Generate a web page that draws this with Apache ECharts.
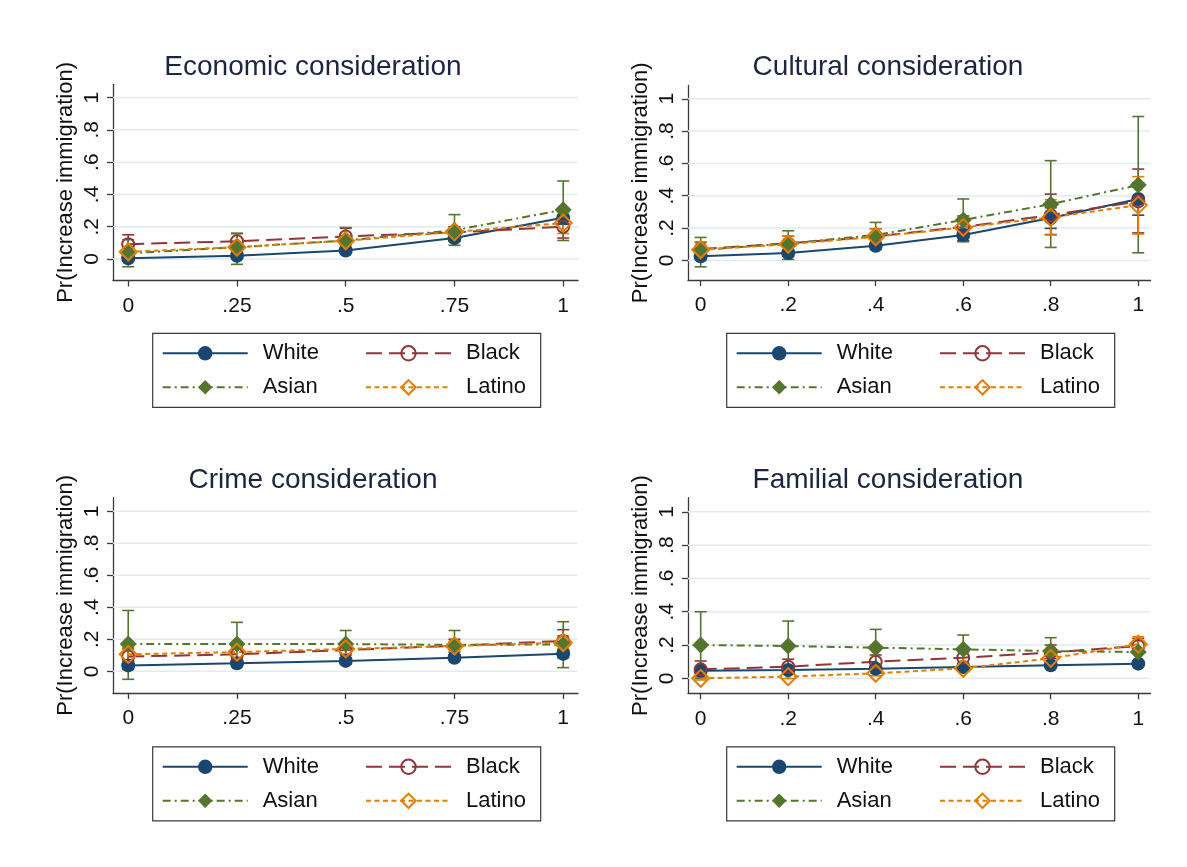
<!DOCTYPE html>
<html>
<head>
<meta charset="utf-8">
<script src="https://cdn.jsdelivr.net/npm/echarts@6/dist/echarts.min.js"></script>
<style>
  html, body { margin: 0; padding: 0; background: #ffffff; }
  #chart { width: 1187px; height: 867px; }
</style>
</head>
<body>
<div id="chart"></div>
<script>
// ---- data ---------------------------------------------------------------
const groups = ['White', 'Black', 'Asian', 'Latino'];
const panelTitles = ['Economic consideration', 'Cultural consideration', 'Crime consideration', 'Familial consideration'];
const yAxisTitle = 'Pr(Increase immigration)';

const quarterX = [0, 0.25, 0.5, 0.75, 1];
const quarterLabels = ['0', '.25', '.5', '.75', '1'];
const fifthX = [0, 0.2, 0.4, 0.6, 0.8, 1];
const fifthLabels = ['0', '.2', '.4', '.6', '.8', '1'];
const yTicks = [0, 0.2, 0.4, 0.6, 0.8, 1];
const yTickLabels = ['0', '.2', '.4', '.6', '.8', '1'];

// Economic consideration: predicted probability, lower and upper 95% bounds
const econWhite   = [0.005, 0.020, 0.053, 0.130, 0.255];
const econWhiteLo = [-0.012, 0.002, 0.035, 0.110, 0.215];
const econWhiteHi = [0.022, 0.038, 0.071, 0.150, 0.295];
const econBlack   = [0.092, 0.110, 0.140, 0.165, 0.200];
const econBlackLo = [0.035, 0.063, 0.090, 0.130, 0.130];
const econBlackHi = [0.150, 0.157, 0.190, 0.200, 0.270];
const econAsian   = [0.035, 0.073, 0.115, 0.178, 0.305];
const econAsianLo = [-0.048, -0.033, 0.040, 0.085, 0.115];
const econAsianHi = [0.120, 0.160, 0.195, 0.275, 0.483];
const econLatino   = [0.045, 0.073, 0.113, 0.168, 0.223];
const econLatinoLo = [0.015, 0.045, 0.085, 0.140, 0.158];
const econLatinoHi = [0.075, 0.100, 0.140, 0.195, 0.290];

// Cultural consideration
const cultWhite   = [0.025, 0.045, 0.090, 0.157, 0.262, 0.380];
const cultWhiteLo = [0.005, 0.025, 0.068, 0.122, 0.198, 0.280];
const cultWhiteHi = [0.045, 0.066, 0.112, 0.192, 0.326, 0.480];
const cultBlack   = [0.070, 0.105, 0.148, 0.207, 0.280, 0.365];
const cultBlackLo = [0.030, 0.062, 0.100, 0.140, 0.160, 0.170];
const cultBlackHi = [0.110, 0.150, 0.196, 0.275, 0.410, 0.565];
const cultAsian   = [0.064, 0.105, 0.157, 0.250, 0.348, 0.466];
const cultAsianLo = [-0.040, 0.006, 0.080, 0.115, 0.080, 0.047];
const cultAsianHi = [0.142, 0.183, 0.235, 0.380, 0.617, 0.890];
const cultLatino   = [0.066, 0.100, 0.146, 0.204, 0.266, 0.342];
const cultLatinoLo = [0.020, 0.050, 0.100, 0.140, 0.157, 0.163];
const cultLatinoHi = [0.115, 0.150, 0.195, 0.270, 0.375, 0.518];

// Crime consideration
const crimeWhite   = [0.037, 0.050, 0.065, 0.085, 0.110];
const crimeWhiteLo = [0.012, 0.030, 0.048, 0.068, 0.085];
const crimeWhiteHi = [0.062, 0.070, 0.082, 0.102, 0.135];
const crimeBlack   = [0.092, 0.106, 0.133, 0.160, 0.190];
const crimeBlackLo = [0.045, 0.070, 0.100, 0.120, 0.130];
const crimeBlackHi = [0.140, 0.145, 0.166, 0.200, 0.260];
const crimeAsian   = [0.170, 0.170, 0.170, 0.165, 0.168];
const crimeAsianLo = [-0.050, 0.030, 0.085, 0.075, 0.023];
const crimeAsianHi = [0.380, 0.306, 0.255, 0.255, 0.310];
const crimeLatino   = [0.106, 0.120, 0.140, 0.158, 0.180];
const crimeLatinoLo = [0.065, 0.080, 0.110, 0.130, 0.140];
const crimeLatinoHi = [0.148, 0.160, 0.170, 0.188, 0.222];

// Familial consideration
const famWhite   = [0.045, 0.050, 0.058, 0.068, 0.078, 0.088];
const famWhiteLo = [0.030, 0.038, 0.048, 0.058, 0.068, 0.076];
const famWhiteHi = [0.060, 0.062, 0.068, 0.078, 0.088, 0.100];
const famBlack   = [0.054, 0.070, 0.100, 0.124, 0.155, 0.194];
const famBlackLo = [0.010, 0.030, 0.060, 0.090, 0.118, 0.150];
const famBlackHi = [0.104, 0.115, 0.140, 0.160, 0.200, 0.240];
const famAsian   = [0.200, 0.194, 0.184, 0.174, 0.164, 0.158];
const famAsianLo = [0.000, 0.045, 0.075, 0.090, 0.085, 0.090];
const famAsianHi = [0.400, 0.344, 0.294, 0.260, 0.244, 0.226];
const famLatino   = [0.000, 0.010, 0.030, 0.060, 0.120, 0.205];
const famLatinoLo = [-0.010, -0.002, 0.015, 0.042, 0.092, 0.165];
const famLatinoHi = [0.012, 0.024, 0.048, 0.080, 0.150, 0.250];

// ---- panel assembly -------------------------------------------------------
const panels = [
  { x: quarterX, xLabels: quarterLabels,
    est: [econWhite, econBlack, econAsian, econLatino],
    lo:  [econWhiteLo, econBlackLo, econAsianLo, econLatinoLo],
    hi:  [econWhiteHi, econBlackHi, econAsianHi, econLatinoHi] },
  { x: fifthX, xLabels: fifthLabels,
    est: [cultWhite, cultBlack, cultAsian, cultLatino],
    lo:  [cultWhiteLo, cultBlackLo, cultAsianLo, cultLatinoLo],
    hi:  [cultWhiteHi, cultBlackHi, cultAsianHi, cultLatinoHi] },
  { x: quarterX, xLabels: quarterLabels,
    est: [crimeWhite, crimeBlack, crimeAsian, crimeLatino],
    lo:  [crimeWhiteLo, crimeBlackLo, crimeAsianLo, crimeLatinoLo],
    hi:  [crimeWhiteHi, crimeBlackHi, crimeAsianHi, crimeLatinoHi] },
  { x: fifthX, xLabels: fifthLabels,
    est: [famWhite, famBlack, famAsian, famLatino],
    lo:  [famWhiteLo, famBlackLo, famAsianLo, famLatinoLo],
    hi:  [famWhiteHi, famBlackHi, famAsianHi, famLatinoHi] }
];

// plot-region geometry and axis ranges for each panel
const layout = [
  { left: 113, top: 84.3,  width: 465,   height: 196.2, xMin: -0.035, xMax: 1.034, yMin: -0.133, yMax: 1.082, titleX: 308, titleY: 48,  legendX: 152.7, legendY: 333.3 },
  { left: 688, top: 85.5,  width: 462.5, height: 194.6, xMin: -0.029, xMax: 1.028, yMin: -0.122, yMax: 1.082, titleX: 883, titleY: 48,  legendX: 726.7, legendY: 333.3 },
  { left: 113, top: 497.7, width: 465,   height: 195.2, xMin: -0.035, xMax: 1.034, yMin: -0.135, yMax: 1.085, titleX: 308, titleY: 461, legendX: 152.7, legendY: 746.8 },
  { left: 688, top: 497.7, width: 462.5, height: 195.6, xMin: -0.029, xMax: 1.028, yMin: -0.090, yMax: 1.085, titleX: 883, titleY: 461, legendX: 726.7, legendY: 746.8 }
];

const FONT = '"Liberation Sans", Arial, Helvetica, sans-serif';
const colors = ['#1a476f', '#90353b', '#55752f', '#e37e00'];
const markerStyles = [
  { symbol: 'circle',  size: 14, itemStyle: { color: colors[0] } },
  { symbol: 'circle',  size: 12, itemStyle: { color: 'rgba(255,255,255,0)', borderColor: colors[1], borderWidth: 2 } },
  { symbol: 'diamond', size: 17, itemStyle: { color: colors[2] } },
  { symbol: 'diamond', size: 17, itemStyle: { color: 'rgba(255,255,255,0)', borderColor: colors[3], borderWidth: 2 } }
];
const dashStyles = ['solid', [16, 7], [8, 4, 2, 4], [5, 3.5]];

const grid = [], xAxis = [], yAxis = [], series = [], title = [], legend = [], graphic = [];

panels.forEach((p, i) => {
  const L = layout[i];
  grid.push({ left: L.left, top: L.top, width: L.width, height: L.height, containLabel: false });

  xAxis.push({
    type: 'value', gridIndex: i, min: L.xMin, max: L.xMax,
    axisLine: { show: true, onZero: false, lineStyle: { color: '#3a3a3a', width: 1.3 } },
    axisTick: { show: true, length: 6, customValues: p.x, lineStyle: { color: '#3a3a3a', width: 1.3 } },
    axisLabel: {
      customValues: p.x, margin: 15, fontSize: 21, color: '#111', fontFamily: FONT,
      formatter: v => p.xLabels[p.x.findIndex(t => Math.abs(t - v) < 1e-9)]
    },
    splitLine: { show: false }
  });

  yAxis.push({
    type: 'value', gridIndex: i, min: L.yMin, max: L.yMax,
    name: yAxisTitle, nameLocation: 'middle', nameGap: 36, nameRotate: 90,
    nameTextStyle: { fontSize: 22, color: '#111', fontFamily: FONT },
    axisLine: { show: true, onZero: false, lineStyle: { color: '#3a3a3a', width: 1.3 } },
    axisTick: { show: true, length: 6, customValues: yTicks, lineStyle: { color: '#3a3a3a', width: 1.3 } },
    axisLabel: {
      customValues: yTicks, rotate: 90, margin: 10, fontSize: 21, color: '#111', fontFamily: FONT,
      formatter: v => yTickLabels[yTicks.findIndex(t => Math.abs(t - v) < 1e-9)]
    },
    splitLine: { show: false }
  });

  // horizontal gridlines at the y ticks
  series.push({
    type: 'custom', name: 'gridlines', xAxisIndex: i, yAxisIndex: i, silent: true, z: 1,
    data: yTicks.map(v => [0, v]), encode: { x: 0, y: 1 },
    renderItem: (params, api) => {
      const cs = params.coordSys;
      const y = api.coord([0, api.value(1)])[1];
      return { type: 'line', shape: { x1: cs.x, y1: y, x2: cs.x + cs.width, y2: y },
               style: { stroke: '#e2ebef', lineWidth: 1.5 } };
    }
  });

  // confidence-interval caps
  groups.forEach((g, k) => {
    const col = colors[k];
    series.push({
      type: 'custom', name: g + ' 95% CI', xAxisIndex: i, yAxisIndex: i, silent: true, z: 2,
      data: p.x.map((xv, j) => [xv, p.lo[k][j], p.hi[k][j]]),
      encode: { x: 0, y: [1, 2] },
      renderItem: (params, api) => {
        const a = api.coord([api.value(0), api.value(1)]);
        const b = api.coord([api.value(0), api.value(2)]);
        const w = 6;
        const st = { stroke: col, lineWidth: 1.6 };
        return { type: 'group', children: [
          { type: 'line', shape: { x1: a[0], y1: a[1], x2: b[0], y2: b[1] }, style: st },
          { type: 'line', shape: { x1: a[0] - w, y1: a[1], x2: a[0] + w, y2: a[1] }, style: st },
          { type: 'line', shape: { x1: b[0] - w, y1: b[1], x2: b[0] + w, y2: b[1] }, style: st }
        ] };
      }
    });
  });

  // predicted probabilities
  groups.forEach((g, k) => {
    const m = markerStyles[k];
    series.push({
      type: 'line', name: g, xAxisIndex: i, yAxisIndex: i, z: 3,
      data: p.x.map((xv, j) => [xv, p.est[k][j]]),
      symbol: m.symbol, symbolSize: m.size, showSymbol: true,
      itemStyle: m.itemStyle,
      lineStyle: { color: colors[k], width: 2, type: dashStyles[k] },
      emphasis: { disabled: true }
    });
  });

  title.push({
    text: panelTitles[i], left: L.titleX, top: L.titleY, textAlign: 'center',
    textStyle: { fontSize: 28, fontWeight: 'normal', color: '#1c2541', fontFamily: FONT }
  });

  // two-column key: White/Asian on the left, Black/Latino on the right
  const keyCommon = {
    orient: 'vertical', top: L.legendY + 9, padding: 0,
    itemWidth: 85, itemHeight: 18, itemGap: 12, selectedMode: false,
    textStyle: { fontSize: 22, color: '#111', fontFamily: FONT, padding: [0, 0, 0, 10] }
  };
  legend.push(Object.assign({ data: [groups[0], groups[2]], left: L.legendX + 9 }, keyCommon));
  legend.push(Object.assign({ data: [groups[1], groups[3]], left: L.legendX + 212.3 }, keyCommon));

  graphic.push({
    type: 'rect', silent: true, z: 0,
    shape: { x: L.legendX, y: L.legendY, width: 388, height: 74 },
    style: { fill: 'none', stroke: '#3a3a3a', lineWidth: 1.2 }
  });
});

const chart = echarts.init(document.getElementById('chart'), null, { renderer: 'canvas' });
chart.setOption({
  backgroundColor: '#ffffff',
  animation: false,
  title, legend, grid, xAxis, yAxis, series, graphic
});
</script>
</body>
</html>
